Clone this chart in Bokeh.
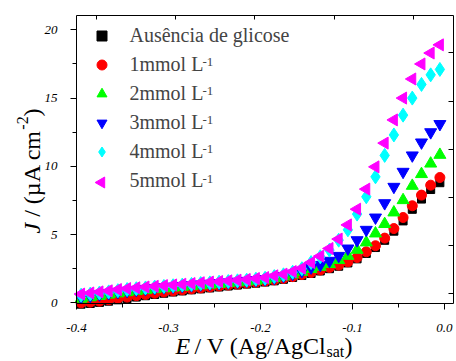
import numpy as np
from bokeh.plotting import figure
from bokeh.models import (ColumnDataSource, Range1d, LinearAxis, FixedTicker,
                          Legend, LegendItem, Label)
from bokeh.embed import file_html
from bokeh.resources import INLINE

# ---------------- data ----------------
potential = [-0.395, -0.385, -0.375, -0.365, -0.355, -0.345, -0.335, -0.325, -0.315, -0.305,
             -0.295, -0.285, -0.275, -0.265, -0.255, -0.245, -0.235, -0.225, -0.215, -0.205,
             -0.195, -0.185, -0.175, -0.165, -0.155, -0.145, -0.135, -0.125, -0.115, -0.105,
             -0.095, -0.085, -0.075, -0.065, -0.055, -0.045, -0.035, -0.025, -0.015, -0.005]

j_sem_glicose = [-0.10, -0.05, 0.03, 0.12, 0.22, 0.32, 0.42, 0.52, 0.61, 0.70,
                 0.79, 0.87, 0.95, 1.02, 1.09, 1.16, 1.23, 1.30, 1.37, 1.44,
                 1.52, 1.61, 1.72, 1.86, 2.00, 2.15, 2.33, 2.50, 2.68, 2.92,
                 3.22, 3.62, 4.05, 4.58, 5.25, 6.00, 6.85, 7.60, 8.30, 8.80]
j_1mmol = [0.00, 0.05, 0.12, 0.22, 0.32, 0.42, 0.52, 0.61, 0.70, 0.79,
           0.87, 0.95, 1.02, 1.09, 1.16, 1.23, 1.30, 1.37, 1.44, 1.51,
           1.59, 1.68, 1.79, 1.92, 2.07, 2.22, 2.40, 2.59, 2.76, 3.00,
           3.32, 3.74, 4.18, 4.74, 5.44, 6.25, 7.11, 7.89, 8.62, 9.18]
j_2mmol = [0.30, 0.40, 0.50, 0.60, 0.69, 0.78, 0.86, 0.93, 1.00, 1.06,
           1.12, 1.17, 1.22, 1.28, 1.33, 1.38, 1.44, 1.50, 1.56, 1.62,
           1.70, 1.80, 1.93, 2.08, 2.27, 2.47, 2.64, 2.84, 3.13, 3.44,
           3.88, 4.42, 5.08, 5.77, 6.62, 7.52, 8.57, 9.43, 10.20, 10.84]
j_3mmol = [0.42, 0.52, 0.62, 0.71, 0.80, 0.88, 0.95, 1.02, 1.08, 1.14,
           1.19, 1.24, 1.29, 1.35, 1.40, 1.45, 1.50, 1.55, 1.61, 1.67,
           1.74, 1.84, 1.97, 2.13, 2.33, 2.59, 2.78, 3.08, 3.44, 3.98,
           4.59, 5.35, 6.25, 7.30, 8.50, 9.60, 10.80, 11.75, 12.50, 13.10]
j_4mmol = [0.56, 0.64, 0.72, 0.80, 0.89, 0.97, 1.03, 1.09, 1.15, 1.20,
           1.25, 1.30, 1.35, 1.41, 1.46, 1.51, 1.56, 1.61, 1.66, 1.73,
           1.80, 1.92, 2.05, 2.24, 2.50, 2.95, 3.37, 3.86, 4.59, 5.35,
           6.50, 7.77, 9.23, 10.80, 12.30, 13.75, 15.00, 16.00, 16.70, 17.10]
j_5mmol = [0.64, 0.72, 0.80, 0.88, 0.97, 1.04, 1.10, 1.16, 1.21, 1.26,
           1.31, 1.36, 1.41, 1.47, 1.52, 1.56, 1.61, 1.66, 1.71, 1.78,
           1.85, 1.98, 2.10, 2.29, 2.54, 2.95, 3.42, 3.98, 4.67, 5.71,
           6.86, 8.33, 9.96, 11.70, 13.40, 15.00, 16.40, 17.50, 18.30, 18.90]

legend_labels = ["Ausência de glicose", "1mmol L", "2mmol L", "3mmol L", "4mmol L", "5mmol L"]
legend_superscript = "-1"

x_ticks = [-0.4, -0.3, -0.2, -0.1, 0]
x_tick_labels = ["-0.4", "-0.3", "-0.2", "-0.1", "0.0"]
x_minor = [-0.35, -0.25, -0.15, -0.05]
y_ticks = [0, 5, 10, 15, 20]
y_tick_labels = ["0", "5", "10", "15", "20"]
y_minor = [2.5, 7.5, 12.5, 17.5]
top_ticks = [-0.378, -0.292, -0.206, -0.120, -0.034]
right_ticks = [0.66, 4.19, 7.72, 11.25, 14.78, 18.31]

# ---------------- geometry (screen pixels) ----------------
W, H = 456, 361
BOX_L, BOX_R, BOX_T, BOX_B = 76, 453, 15, 303       # plotting box on the canvas
X0, X1 = -0.4, 0.0098                                # data limits of the box
Y0, Y1 = -0.05, 21.05
sx = (BOX_R - BOX_L) / (X1 - X0)
sy = (BOX_B - BOX_T) / (Y1 - Y0)
def px2x(px): return X0 + (px - BOX_L) / sx
def py2y(py): return Y0 + (BOX_B - py) / sy

SERIF = "Liberation Serif"
p = figure(width=W, height=H, output_backend="svg", toolbar_location=None,
           x_range=Range1d(px2x(0), px2x(W)), y_range=Range1d(py2y(H), py2y(0)),
           min_border_left=0, min_border_right=0, min_border_top=0, min_border_bottom=0,
           background_fill_color="white", border_fill_color="white")
p.grid.visible = False
p.outline_line_color = None

src = ColumnDataSource(dict(x=potential, j0=j_sem_glicose, j1=j_1mmol, j2=j_2mmol,
                            j3=j_3mmol, j4=j_4mmol, j5=j_5mmol))

r0 = p.scatter("x", "j0", source=src, marker="square", size=8,
               fill_color="black", line_color="black")
r1 = p.scatter("x", "j1", source=src, marker="circle", size=10,
               fill_color="#ff0000", line_color="#ff0000")
r2 = p.scatter("x", "j2", source=src, marker="triangle", size=12,
               fill_color="#00ff00", line_color="#00ff00")
r3 = p.scatter("x", "j3", source=src, marker="inverted_triangle", size=12,
               fill_color="#0000ff", line_color="#0000ff")
r4 = p.scatter("x", "j4", source=src, marker="diamond", size=14,
               fill_color="#00ffff", line_color="#00ffff")
r5 = p.scatter("x", "j5", source=src, marker="triangle", size=12, angle=np.pi / 2,
               fill_color="#ff00ff", line_color="#ff00ff")

# ---------------- axes (pinned to the box edges) ----------------
xa = p.xaxis[0]
xa.fixed_location = Y0
xa.bounds = (X0, X1)
xa.ticker = FixedTicker(ticks=x_ticks, minor_ticks=x_minor)
xa.major_label_overrides = {t: l for t, l in zip(x_ticks, x_tick_labels)}
ya = p.yaxis[0]
ya.fixed_location = X0
ya.bounds = (Y0, Y1)
ya.ticker = FixedTicker(ticks=y_ticks, minor_ticks=y_minor)
ya.major_label_overrides = {t: l for t, l in zip(y_ticks, y_tick_labels)}

for ax in (xa, ya):
    ax.axis_line_color = "black"
    ax.major_tick_line_color = "black"
    ax.minor_tick_line_color = "black"
    ax.major_tick_in = 0
    ax.major_tick_out = 6
    ax.minor_tick_in = 0
    ax.minor_tick_out = 4
    ax.major_label_text_font = SERIF
    ax.major_label_text_font_style = "italic"
    ax.major_label_text_font_size = "13px"
    ax.major_label_text_color = "black"
xa.major_label_standoff = 14
ya.major_label_standoff = 13

# mirror axes: ticks only, no labels drawn
top = LinearAxis(fixed_location=Y1, bounds=(X0, X1),
                 ticker=FixedTicker(ticks=top_ticks, minor_ticks=[]),
                 major_tick_in=4, major_tick_out=0, minor_tick_in=0, minor_tick_out=0,
                 major_label_text_color=None, major_label_standoff=0,
                 axis_line_color="black", major_tick_line_color="black")
right = LinearAxis(fixed_location=X1, bounds=(Y0, Y1),
                   ticker=FixedTicker(ticks=right_ticks, minor_ticks=[]),
                   major_tick_in=5, major_tick_out=0, minor_tick_in=0, minor_tick_out=0,
                   major_label_text_color=None, major_label_standoff=0,
                   axis_line_color="black", major_tick_line_color="black")
p.add_layout(top, "above")
p.add_layout(right, "right")

# ---------------- legend ----------------
ROW_PLACE, ITEM_H, SPACING = 33.0, 25.4, 4      # placement of the legend block
ROW0, ROW_STEP = 36.0, 29.2                       # resulting row centres
GLYPH_W, GLYPH_CX = 35, 101
leg_top = ROW_PLACE - ITEM_H / 2
leg_bottom = leg_top + 6 * ITEM_H + 5 * SPACING

# the left-pointing swatch of the last entry is drawn separately (legend swatches are not rotated)
r5_blank = p.scatter(x=[], y=[], marker="triangle", fill_alpha=0, line_alpha=0)
renderers = [r0, r1, r2, r3, r4, r5_blank]
legend = Legend(items=[LegendItem(label=l, renderers=[r]) for l, r in zip(legend_labels, renderers)],
                location=(GLYPH_CX - GLYPH_W / 2, H - leg_bottom), margin=0, padding=0,
                spacing=SPACING, glyph_width=GLYPH_W, glyph_height=25, label_height=25,
                label_standoff=11, label_text_font=SERIF, label_text_font_size="20px",
                border_line_color=None, background_fill_alpha=0)
p.add_layout(legend)
p.scatter(x=[px2x(GLYPH_CX)], y=[py2y(ROW0 + 5 * ROW_STEP)], marker="triangle", size=11,
          angle=np.pi / 2, fill_color="#ff00ff", line_color="#ff00ff")

for k in range(1, 6):
    p.add_layout(Label(x=202, y=H - (ROW0 + k * ROW_STEP - 4), x_units="screen", y_units="screen",
                       text=legend_superscript, text_font=SERIF, text_font_size="13px",
                       text_baseline="alphabetic"))

# ---------------- axis titles ----------------
def lab(x, y, text, size, style="normal", angle=0.0):
    return Label(x=x, y=y, x_units="screen", y_units="screen", text=text,
                 text_font=SERIF, text_font_size=size, text_font_style=style,
                 angle=angle, text_baseline="alphabetic", text_align="left",
                 text_color="black")

XB = 16
p.add_layout(lab(175, XB, "E", "24px", "italic"))
p.add_layout(lab(194, XB, "/ V (Ag/AgCl", "24px"))
p.add_layout(lab(326, XB - 6, "sat", "16px"))
p.add_layout(lab(344, XB, ")", "24px"))

A = np.pi / 2
YB = 31
p.add_layout(lab(YB, H - 233, "J", "24px", "italic", A))
p.add_layout(lab(YB, H - 216.3, "/ (\u00b5A cm", "24px", "normal", A))
p.add_layout(lab(YB - 9, H - 129.2, "-2", "16px", "normal", A))
p.add_layout(lab(YB, H - 115.9, ")", "24px", "normal", A))

open("out.html", "w").write(file_html(p, INLINE))
